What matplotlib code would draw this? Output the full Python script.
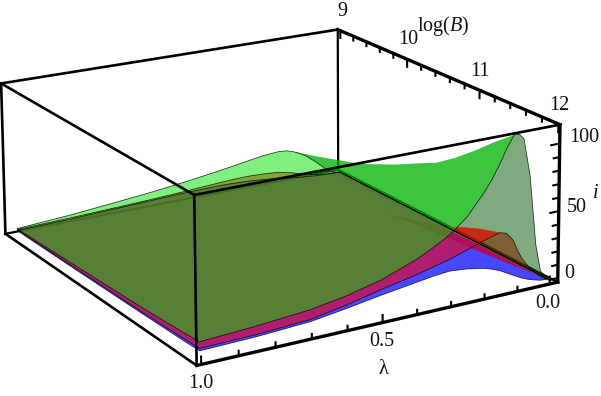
import numpy as np
import matplotlib
matplotlib.use("Agg")
import matplotlib.pyplot as plt
from mpl_toolkits.mplot3d.art3d import Poly3DCollection, Line3DCollection

plt.rcParams['font.family'] = ['Liberation Serif', 'DejaVu Serif']
plt.rcParams['mathtext.fontset'] = 'custom'
plt.rcParams['mathtext.rm'] = 'Liberation Serif'
plt.rcParams['mathtext.it'] = 'Liberation Serif:italic'

# ---- data -------------------------------------------------------------
lam = [0, .01, .025, .04, .06, .08, .095, .11, .13, .15, .175, .2, .25, .3, .35, .4, .5, .6, .7, .85, 1]
log_b = [9.1, 9.5, 10, 10.5, 11, 11.25, 11.5, 11.75, 12]

i_green = [
    [0, .2, 1.2, 3.5, 8, 12.5, 15.5, 18.5, 21.5, 24, 26, 26.5, 25.5, 23.5, 21.5, 19.5, 16, 13, 10.5, 7, 4.5],
    [0, .3, 1.5, 4, 9, 15, 19, 23, 27.5, 30.5, 31.5, 31, 28.5, 26, 23, 20.5, 16.5, 13.5, 11, 7.5, 5.2],
    [0, .4, 2, 5.5, 12, 21, 27, 32.5, 37.5, 39.5, 39.5, 38, 34.5, 31, 27.5, 24, 18.5, 14.5, 11.5, 8.5, 6.2],
    [0, .5, 2.5, 7, 17, 31, 40, 46, 50.5, 50.5, 48, 45.5, 41, 36, 31.5, 27.5, 21, 16.5, 12.5, 9.5, 7.3],
    [0, .6, 3, 9, 25, 47, 58, 64.5, 65.5, 62, 57.5, 53, 46.5, 40, 35, 31, 23.5, 18, 14, 10.7, 8.4],
    [0, .7, 3.5, 11, 32, 58, 69, 75, 74, 69.5, 64, 59, 50, 43, 37.5, 32.5, 24.5, 19, 15, 11.2, 9.1],
    [0, .8, 4.5, 14, 42, 72, 83, 87, 83, 76, 69.5, 63.5, 53, 45, 39, 33.5, 25.5, 20, 15.5, 12, 9.9],
    [0, .9, 6, 20, 58, 90, 98, 100, 93, 84, 76, 68.5, 56, 47, 40.5, 35, 26, 20.5, 16, 13, 10.9],
    [0, 1, 8, 28, 80, 108, 112, 112, 104, 94, 83, 74, 59, 49, 42, 36, 27, 21, 17, 14, 12],
]
i_red = [
    [0, 0, .2, .5, 1, 1.8, 2.5, 3.2, 4.8, 6.5, 8, 9.5, 10.5, 11, 10.7, 10, 8.5, 7.2, 6.2, 4.8, 3.8],
    [0, .1, .3, .6, 1.2, 2.2, 3, 4, 5.5, 7, 8.7, 10, 10.6, 10.5, 9.8, 9, 7.5, 6.2, 5.5, 4.8, 4],
    [0, .1, .4, .8, 1.6, 3, 4.2, 5.5, 7.5, 9.5, 11.5, 13, 13.2, 12.5, 11.5, 10.5, 9, 7, 5.9, 5, 4.4],
    [0, .2, .5, 1, 2.2, 4, 5.5, 7.5, 10, 13, 16, 18, 17, 15, 13.8, 12.5, 10.5, 8, 6.4, 5.5, 4.9],
    [0, .3, .7, 1.4, 3, 6, 8.3, 11, 15, 20, 23.5, 25, 22, 18.5, 16.7, 15, 12, 9, 7.2, 6, 5.4],
    [0, .4, .9, 1.8, 4, 7.5, 11, 15, 20, 25, 28, 29, 25, 21, 19, 17, 13, 10, 7.8, 6.2, 5.8],
    [0, .5, 1.2, 2.5, 5.5, 10, 14.5, 20, 26.5, 32, 33, 32, 28, 24, 21.5, 19, 15, 11, 8.5, 6.8, 6.2],
    [0, .7, 2, 4, 8, 13, 19, 27, 33.5, 38, 38, 36, 31.5, 27, 24.5, 22, 17, 12.5, 9.2, 7.2, 6.7],
    [0, 1, 3.5, 7, 12, 19, 26, 35, 41, 42.5, 41, 39, 35, 31, 28, 25, 20, 14.5, 10, 8, 7.4],
]
i_blue = [
    [0, 0, .1, .2, .5, .8, 1.1, 1.5, 2, 2.6, 3.4, 4.5, 6, 7, 7.6, 7.8, 7.3, 6.3, 5.3, 3.8, 3],
    [0, 0, .1, .2, .5, .9, 1.2, 1.6, 2.2, 2.8, 3.8, 4.8, 6, 7, 7.3, 7.3, 6.6, 5.6, 4.6, 3.8, 3.2],
    [0, 0, .1, .3, .6, 1.1, 1.5, 2, 2.8, 3.6, 4.8, 6, 7.5, 8.6, 8.8, 8.5, 7.6, 6.2, 4.9, 4, 3.5],
    [0, 0, .1, .4, .8, 1.4, 2, 2.6, 3.7, 4.8, 6.3, 7.8, 9.4, 10.5, 10.4, 10, 8.8, 7, 5.6, 4.5, 3.9],
    [0, .1, .2, .5, 1, 1.9, 2.7, 3.6, 5, 6.6, 8.5, 10.4, 12, 13, 12.6, 12, 10.2, 8, 6.4, 5, 4.3],
    [0, .1, .2, .6, 1.3, 2.4, 3.4, 4.4, 6.2, 8, 10, 12, 13.7, 14.8, 14.1, 13.2, 11, 8.5, 6.8, 5.4, 4.6],
    [0, .1, .3, .8, 1.6, 3, 4.2, 5.5, 7.5, 9.6, 12, 14, 15.7, 16.8, 16, 14.8, 12.2, 9.2, 7.2, 5.8, 4.9],
    [0, .1, .4, 1.1, 2.2, 3.9, 5.4, 7, 9.3, 11.8, 14.3, 16.4, 18.2, 19.4, 18.3, 17, 14, 10.4, 7.8, 6.2, 5.2],
    [0, .1, .5, 1.5, 3, 5, 7, 9, 11.8, 14.5, 17, 19, 21.2, 22.4, 21.3, 19.5, 16, 12, 8.5, 6.5, 5.7],
]

lam_ticks = [0, .1, .2, .3, .4, .5, .6, .7, .8, .9, 1.0]
lam_major = [0.0, 0.5, 1.0]
b_ticks = [9, 9.2, 9.4, 9.6, 9.8, 10, 10.2, 10.4, 10.6, 10.8, 11, 11.2, 11.4, 11.6, 11.8, 12]
b_major = [9, 10, 11, 12]
i_ticks = [0, 10, 20, 30, 40, 50, 60, 70, 80, 90, 100]
i_major = [0, 50, 100]

# box limits (plot range with padding)
L0, L1 = -0.025, 1.012
B0, B1 = 8.96, 12.02
Z0, Z1 = -3.07, 113.87

# perspective camera, maps (lambda, logB, i) to image pixels
CAM = np.array([
    [-239.7998855, 37.6777833, -0.025638, -91.23254],
    [34.0232856, 19.3972608, -0.896226, -49.06068],
    [-0.0519716, -0.028485, -0.0000682, 1.000196],
])
M = np.vstack([CAM[0], CAM[1], [0, 0, 0, -1.0], CAM[2]])

W, H = 601, 396
fig = plt.figure(figsize=(W / 100, H / 100), dpi=100)
pad = (W - H) / 2
ax = fig.add_axes([0, -pad / H, 1, W / H], projection='3d', computed_zorder=False)
ax.set_axis_off()
ax.patch.set_visible(False)
ax.get_proj = lambda: M
ax.viewLim.intervalx = (0, W)
ax.viewLim.intervaly = (H + pad, -pad)


def screen(pts):
    pts = np.asarray(pts, float)
    h = np.c_[pts, np.ones(len(pts))] @ CAM.T
    return h[:, :2] / h[:, 2:]


def area(q):
    s = screen(q)
    x, y = s[:, 0], s[:, 1]
    return 0.5 * np.sum(x * np.roll(y, -1) - np.roll(x, -1) * y)


def merged(quads):
    """One outline that walks through every quad; with all quads wound alike
    the shared edges cancel, so the translucent fill shows no seams."""
    out = []
    for q in quads:
        out.extend(q + [q[0]])
    for q in reversed(quads[:-1]):
        out.append(q[0])
    return out


def pairs(xs, ys, zs):
    p = list(zip(xs, ys, zs))
    return [[a, b] for a, b in zip(p[:-1], p[1:])]


GREEN_FRONT, GREEN_BACK = (0, .88, 0, .5), (0, .33, 0, .5)
RED, BLUE = (1, 0, 0, .57), (0, 0, 1, .72)
series = [(i_blue, BLUE, BLUE), (i_red, RED, RED), (i_green, GREEN_FRONT, GREEN_BACK)]

for n, (table, front, back) in enumerate(series):
    T = np.array(table, float)
    fq, bq = [], []
    for r in range(len(log_b) - 1):
        for c in range(len(lam) - 1):
            idx = [(r, c), (r, c + 1), (r + 1, c + 1), (r + 1, c)]
            q = [(lam[k], log_b[j], T[j, k]) for j, k in idx]
            flat = [(lam[k], log_b[j], 0) for j, k in idx]
            a = area(q)
            if a * area(flat) > 0:
                fq.append(q)
            elif a != 0:
                bq.append(q)
    # undersides first (all series), then upper sides
    for quads, col, z in ((bq, back, 2 + n * .1), (fq, front, 3 + n * .1)):
        if quads:
            ax.add_collection3d(Poly3DCollection([merged(quads)], facecolors=[col],
                                                 edgecolors='none', linewidths=0, zorder=z),
                                autolim=False)

# surface boundaries
segs = []
for table, _, _ in series:
    T = np.array(table, float)
    for j in (0, -1):
        segs += pairs(lam, [log_b[j]] * len(lam), T[j])
    for k in (0, -1):
        segs += pairs([lam[k]] * len(log_b), log_b, T[:, k])
ax.add_collection3d(Line3DCollection(segs, colors=[(0, 0, 0, .8)], linewidths=.55, zorder=4),
                    autolim=False)


def edges(seglist, lw, z):
    ax.add_collection3d(Line3DCollection(seglist, colors='k', linewidths=lw, zorder=z,
                                         capstyle='projecting'), autolim=False)


# box: hidden edges below the surfaces
edges([[(L0, B0, Z0), (L0, B0, Z1)], [(L0, B0, Z0), (L1, B0, Z0)], [(L0, B0, Z0), (L0, B1, Z0)]], 1.6, 1)
# box: others above
edges([[(L1, B0, Z1), (L1, B0, Z0)], [(L1, B0, Z1), (L0, B0, Z1)], [(L1, B0, Z1), (L1, B1, Z1)],
       [(L1, B0, Z0), (L1, B1, Z0)], [(L1, B1, Z1), (L1, B1, Z0)], [(L1, B1, Z1), (L0, B1, Z1)]], 1.9, 5)
# axes edges
edges([[(L1, B1, Z0), (L0, B1, Z0)], [(L0, B0, Z1), (L0, B1, Z1)], [(L0, B1, Z1), (L0, B1, Z0)]], 2.4, 5)

# ticks
ticks = []
for t in lam_ticks:
    d = 5.5 if t in lam_major else 3.5
    ticks.append([(t, B1, Z0), (t, B1, Z0 + d)])
for t in b_ticks:
    d = 6.0 if t in b_major else 3.5
    ticks.append([(L0, t, Z1), (L0, t, Z1 - d)])
for t in i_ticks:
    d = .026 if t in i_major else .018
    ticks.append([(L0, B1, t), (L0 + d, B1, t)])
edges(ticks, 1.5, 5)

FS = 14.5


def label(x, y, s, **kw):
    fig.text(x / W, 1 - y / H, s, ha='center', va='center', fontsize=FS, color='#111111', **kw)


for s, x, y in zip(['0.0', '0.5', '1.0'], [548, 382, 201], [303, 342, 383]):
    label(x, y, s)
for s, x, y in zip(['9', '10', '11', '12'], [342, 408, 480, 559], [12, 40, 71, 105]):
    label(x, y, s)
for s, x, y in zip(['0', '50', '100'], [569, 577, 584], [273, 207, 138]):
    label(x, y, s)
label(383, 369, 'λ')
label(443, 26, r'$\mathrm{log}(B)$')
label(596, 193, 'i', style='italic')

fig.savefig('out.png', dpi=100)
